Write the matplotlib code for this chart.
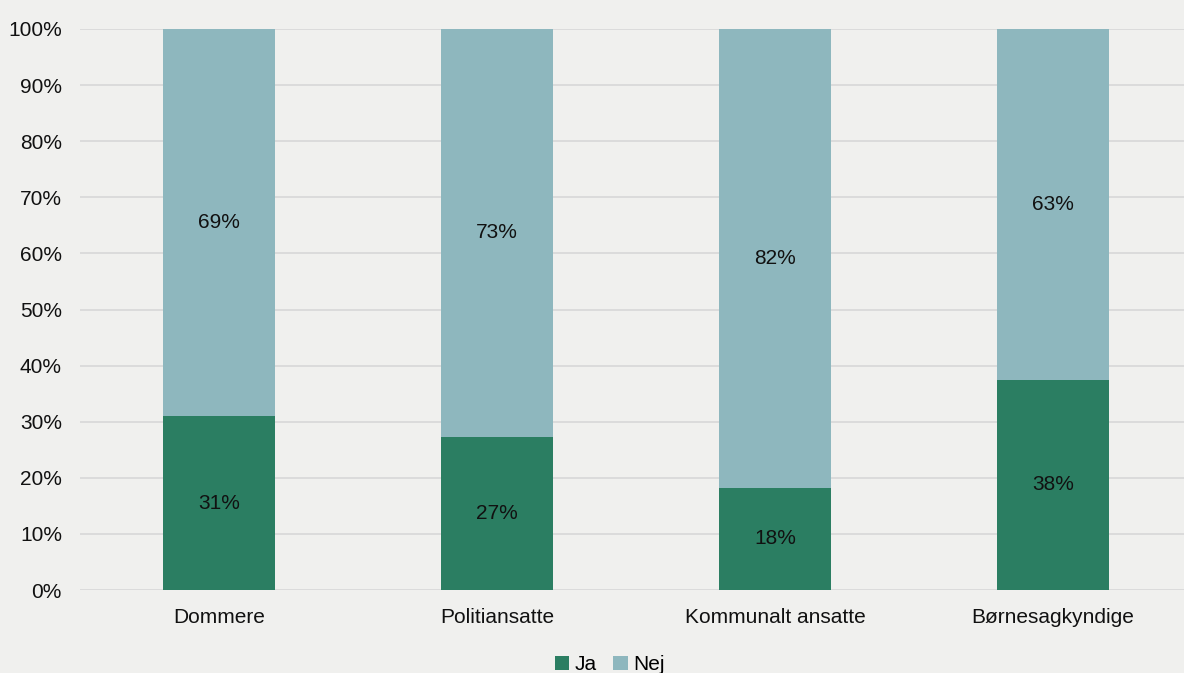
import matplotlib.pyplot as plt
import numpy as np

plt.rcParams['font.family'] = ['Liberation Sans', 'DejaVu Sans']

kategorier = ['Dommere', 'Politiansatte', 'Kommunalt ansatte', 'Børnesagkyndige']
ja = [31.0, 27.3, 18.2, 37.5]
nej = [69.0, 72.7, 81.8, 62.5]

farve_ja = '#2b7e62'
farve_nej = '#8eb7be'
bg = '#f0f0ee'
fs = 15


def pct(v):
    # excel-style afrunding (0.5 rundes op)
    return '{}%'.format(int(v + 0.5))


fig = plt.figure(figsize=(11.84, 6.73), dpi=100, facecolor=bg)
ax = fig.add_axes([80 / 1184, 83 / 673, 1104 / 1184, 561 / 673], facecolor=bg)

x = np.arange(len(kategorier))
b1 = ax.bar(x, ja, width=0.4, color=farve_ja, label='Ja', zorder=3)
b2 = ax.bar(x, nej, width=0.4, bottom=ja, color=farve_nej, label='Nej', zorder=3)

for i in range(len(kategorier)):
    ax.text(x[i], ja[i] / 2, pct(ja[i]), ha='center', va='center', fontsize=fs, color='#111111', zorder=4)
    ax.text(x[i], ja[i] + nej[i] / 2, pct(nej[i]), ha='center', va='center', fontsize=fs, color='#111111', zorder=4)

ax.set_xlim(-0.5, 3.5 - 8 / 278)
ax.set_ylim(0, 100)
ax.set_yticks(range(0, 101, 10))
ax.set_yticklabels(['{}%'.format(t) for t in range(0, 101, 10)], fontsize=fs, color='#111111')
ax.set_xticks(x)
ax.set_xticklabels(kategorier, fontsize=fs, color='#111111')
ax.tick_params(axis='both', length=0)
ax.tick_params(axis='y', pad=13)
ax.tick_params(axis='x', pad=13)
ax.grid(axis='y', color='#d9d9d9', linewidth=1.3, zorder=0)
for s in ax.spines.values():
    s.set_visible(False)

fig.legend(handles=[b1, b2], labels=['Ja', 'Nej'], loc='lower center', bbox_to_anchor=(0.515, -0.03),
           ncol=2, frameon=False, fontsize=fs, handlelength=0.7, handleheight=0.7,
           handletextpad=0.25, columnspacing=0.8)

fig.savefig('out.png', dpi=100, facecolor=bg)
